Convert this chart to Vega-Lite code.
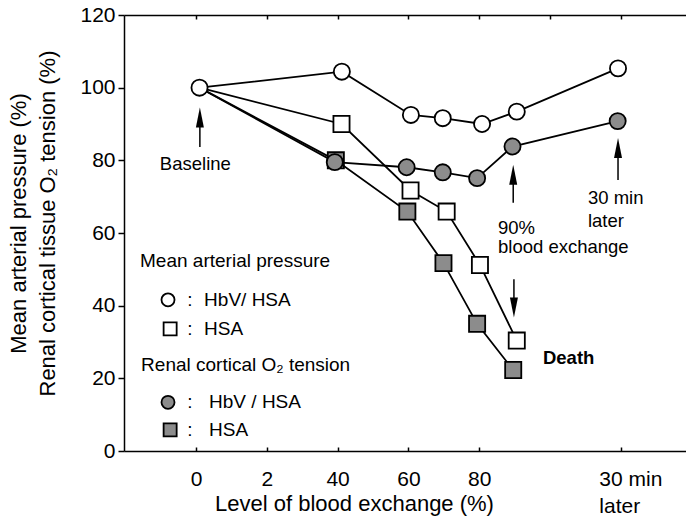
{
  "$schema": "https://vega.github.io/schema/vega-lite/v6.json",
  "width": 562,
  "height": 436,
  "autosize": {"type": "none"},
  "padding": {"left": 124, "top": 15, "right": 0, "bottom": 66},
  "background": "white",
  "config": {
    "view": {"stroke": null},
    "font": "Liberation Sans",
    "axis": {"domainColor": "black", "tickColor": "black", "labelColor": "black", "titleColor": "black", "grid": false, "domainWidth": 1.5, "tickWidth": 1.5}
  },
  "datasets": {
    "series": [
      {"series": "O2 HSA", "x": 1, "y": 100},
      {"series": "O2 HSA", "x": 39.5, "y": 80},
      {"series": "O2 HSA", "x": 59.7, "y": 65.9},
      {"series": "O2 HSA", "x": 69.9, "y": 51.7},
      {"series": "O2 HSA", "x": 79.4, "y": 35.0},
      {"series": "O2 HSA", "x": 89.6, "y": 22.3},
      {"series": "MAP HSA", "x": 1, "y": 100},
      {"series": "MAP HSA", "x": 41.1, "y": 90.0},
      {"series": "MAP HSA", "x": 60.6, "y": 71.7},
      {"series": "MAP HSA", "x": 70.8, "y": 65.9},
      {"series": "MAP HSA", "x": 80.2, "y": 51.2},
      {"series": "MAP HSA", "x": 90.6, "y": 30.4},
      {"series": "O2 HbV/HSA", "x": 1, "y": 100},
      {"series": "O2 HbV/HSA", "x": 39.2, "y": 79.5},
      {"series": "O2 HbV/HSA", "x": 59.5, "y": 78.1},
      {"series": "O2 HbV/HSA", "x": 69.7, "y": 76.7},
      {"series": "O2 HbV/HSA", "x": 79.4, "y": 75.1},
      {"series": "O2 HbV/HSA", "x": 89.4, "y": 83.8},
      {"series": "O2 HbV/HSA", "x": 119.1, "y": 90.8},
      {"series": "MAP HbV/HSA", "x": 1, "y": 100},
      {"series": "MAP HbV/HSA", "x": 41.2, "y": 104.4},
      {"series": "MAP HbV/HSA", "x": 60.7, "y": 92.5},
      {"series": "MAP HbV/HSA", "x": 69.7, "y": 91.6},
      {"series": "MAP HbV/HSA", "x": 80.8, "y": 90.0},
      {"series": "MAP HbV/HSA", "x": 90.6, "y": 93.4},
      {"series": "MAP HbV/HSA", "x": 119.2, "y": 105.3}
    ],
    "legendsym": [
      {"series": "MAP HbV/HSA", "x": -7.9, "y": 41.6},
      {"series": "MAP HSA", "x": -7.3, "y": 33.6},
      {"series": "O2 HbV/HSA", "x": -7.9, "y": 13.4},
      {"series": "O2 HSA", "x": -7.3, "y": 5.8}
    ],
    "notes": [
      {"text": "Baseline", "x": -10.2, "y": 79.0},
      {"text": "90%", "x": 85.3, "y": 61.5},
      {"text": "blood exchange", "x": 85.3, "y": 56.2},
      {"text": "30 min", "x": 110.7, "y": 69.5},
      {"text": "later", "x": 110.7, "y": 63.4}
    ],
    "legendtext": [
      {"text": "Mean arterial pressure", "x": -15.8, "y": 52.3},
      {"text": "Renal cortical O₂ tension", "x": -15.5, "y": 23.7},
      {"text": ":", "x": -2.5, "y": 41.6},
      {"text": ":", "x": -2.5, "y": 33.6},
      {"text": ":", "x": -2.5, "y": 13.4},
      {"text": ":", "x": -2.5, "y": 5.8},
      {"text": "HbV/ HSA", "x": 2.3, "y": 41.6},
      {"text": "HSA", "x": 2.3, "y": 33.6},
      {"text": "HbV / HSA", "x": 3.7, "y": 13.4},
      {"text": "HSA", "x": 3.7, "y": 5.8}
    ],
    "bold": [{"text": "Death", "x": 98.0, "y": 25.6}],
    "stems": [
      {"x": 1.1, "y": 83.7, "y2": 91.8},
      {"x": 89.6, "y": 68.3, "y2": 76.0},
      {"x": 119.2, "y": 74.6, "y2": 83.4},
      {"x": 89.8, "y": 47.3, "y2": 39.5}
    ],
    "headsUp": [
      {"x": 1.1, "y": 91.8},
      {"x": 89.6, "y": 76.0},
      {"x": 119.2, "y": 83.4}
    ],
    "headsDown": [
      {"x": 89.8, "y": 39.5}
    ]
  },
  "resolve": {"axis": {"x": "independent"}},
  "layer": [
    {
      "data": {"name": "series"},
      "mark": {"type": "line", "color": "black", "strokeWidth": 1.8},
      "encoding": {
        "x": {
          "field": "x", "type": "quantitative",
          "scale": {"domain": [-20.33, 138.4], "nice": false, "zero": false},
          "axis": {
            "values": [0, 20, 40, 60, 80, 100, 120],
            "tickSize": -4,
            "labelFontSize": 21,
            "labelExpr": "datum.value == 20 ? '2' : datum.value == 100 ? '' : datum.value == 120 ? ['30 min', 'later'] : datum.label",
            "labelBaseline": "alphabetic",
            "labelPadding": 38,
            "labelLineHeight": 27,
            "labelAlign": {"condition": {"test": "datum.value == 120", "value": "left"}, "value": "center"},
            "labelOffset": {"condition": {"test": "datum.value == 120", "value": -22}, "value": 0},
            "tickOpacity": {"condition": {"test": "datum.value == 100", "value": 0}, "value": 1},
            "labelFlush": false,
            "labelOverlap": false,
            "title": "Level of blood exchange (%)",
            "titleFontSize": 22,
            "titleFontWeight": "normal",
            "titleX": 230,
            "titleY": 59,
            "titleBaseline": "alphabetic",
            "titleAlign": "center"
          }
        },
        "y": {
          "field": "y", "type": "quantitative",
          "scale": {"domain": [0, 120], "nice": false},
          "axis": {
            "values": [0, 20, 40, 60, 80, 100, 120],
            "tickSize": 6,
            "labelFontSize": 21,
            "labelPadding": 3,
            "title": ["Mean arterial pressure (%)", "Renal cortical tissue O₂ tension (%)"],
            "titleFontSize": 22,
            "titleFontWeight": "normal",
            "titleLineHeight": 29,
            "titleAngle": -90,
            "titleX": -99,
            "titleY": 208,
            "titleBaseline": "alphabetic",
            "titleAlign": "center"
          }
        },
        "detail": {"field": "series"}
      }
    },
    {
      "data": {"name": "stems"},
      "mark": {"type": "rule", "color": "black", "strokeWidth": 1.5},
      "encoding": {
        "x": {"field": "x", "type": "quantitative", "axis": null},
        "y": {"field": "y", "type": "quantitative"},
        "y2": {"field": "y2"}
      }
    },
    {
      "data": {"name": "headsUp"},
      "mark": {"type": "point", "shape": "M0,-1L0.4,1L-0.4,1Z", "filled": true, "color": "black", "opacity": 1, "size": 400},
      "encoding": {
        "x": {"field": "x", "type": "quantitative", "axis": null},
        "y": {"field": "y", "type": "quantitative"}
      }
    },
    {
      "data": {"name": "headsDown"},
      "mark": {"type": "point", "shape": "M0,1L0.4,-1L-0.4,-1Z", "filled": true, "color": "black", "opacity": 1, "size": 400},
      "encoding": {
        "x": {"field": "x", "type": "quantitative", "axis": null},
        "y": {"field": "y", "type": "quantitative"}
      }
    },
    {
      "data": {"name": "series"},
      "transform": [{"filter": "datum.x > 1 || datum.series == 'MAP HbV/HSA'"}],
      "mark": {"type": "point", "filled": false, "stroke": "black", "strokeWidth": 1.8, "opacity": 1, "size": 260},
      "encoding": {
        "x": {
          "field": "x", "type": "quantitative",
          "axis": {"orient": "top", "values": [0, 20, 40, 60, 80, 100, 120], "labels": false, "tickSize": -4, "title": null}
        },
        "y": {"field": "y", "type": "quantitative"},
        "shape": {"field": "series", "type": "nominal", "legend": null,
          "scale": {"domain": ["MAP HbV/HSA", "MAP HSA", "O2 HbV/HSA", "O2 HSA"], "range": ["circle", "square", "circle", "square"]}},
        "fill": {"field": "series", "type": "nominal", "legend": null,
          "scale": {"domain": ["MAP HbV/HSA", "MAP HSA", "O2 HbV/HSA", "O2 HSA"], "range": ["white", "white", "#8c8c8c", "#8c8c8c"]}}
      }
    },
    {
      "data": {"name": "legendsym"},
      "mark": {"type": "point", "filled": false, "stroke": "black", "strokeWidth": 1.8, "opacity": 1, "size": 170},
      "encoding": {
        "x": {"field": "x", "type": "quantitative", "axis": null},
        "y": {"field": "y", "type": "quantitative"},
        "shape": {"field": "series", "type": "nominal", "legend": null},
        "fill": {"field": "series", "type": "nominal", "legend": null}
      }
    },
    {
      "data": {"name": "notes"},
      "mark": {"type": "text", "align": "left", "baseline": "middle", "fontSize": 18.5, "color": "black", "font": "Liberation Sans"},
      "encoding": {
        "x": {"field": "x", "type": "quantitative", "axis": null},
        "y": {"field": "y", "type": "quantitative"},
        "text": {"field": "text"}
      }
    },
    {
      "data": {"name": "legendtext"},
      "mark": {"type": "text", "align": "left", "baseline": "middle", "fontSize": 19, "color": "black", "font": "Liberation Sans"},
      "encoding": {
        "x": {"field": "x", "type": "quantitative", "axis": null},
        "y": {"field": "y", "type": "quantitative"},
        "text": {"field": "text"}
      }
    },
    {
      "data": {"name": "bold"},
      "mark": {"type": "text", "align": "left", "baseline": "middle", "fontSize": 18.5, "fontWeight": "bold", "color": "black", "font": "Liberation Sans"},
      "encoding": {
        "x": {"field": "x", "type": "quantitative", "axis": null},
        "y": {"field": "y", "type": "quantitative"},
        "text": {"field": "text"}
      }
    }
  ]
}
